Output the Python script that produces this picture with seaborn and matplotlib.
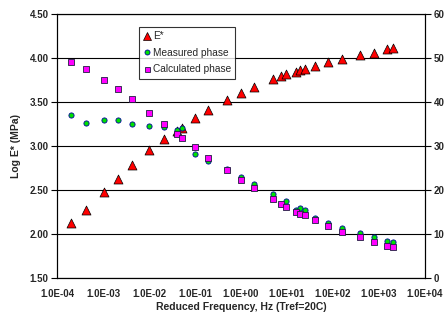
import matplotlib
matplotlib.use("Agg")
import matplotlib.pyplot as plt
import matplotlib.ticker as mticker
from matplotlib.lines import Line2D
import seaborn as sns
import pandas as pd

# reduced frequency (Hz) for each test point
freq = [2.0e-4, 4.2e-4, 1.03e-3, 2.1e-3, 4.2e-3, 9.8e-3, 2.1e-2, 4.1e-2, 5.2e-2,
        9.8e-2, 0.195, 0.5, 1.0, 1.95, 4.9, 7.55, 9.7, 15.5, 19.5, 24.5,
        40, 76, 157, 394, 767, 1450, 1960]
log_e = [2.13, 2.27, 2.48, 2.625, 2.78, 2.955, 3.08, 3.17, 3.21, 3.32, 3.415,
         3.52, 3.606, 3.674, 3.758, 3.795, 3.815, 3.84, 3.864, 3.875, 3.91,
         3.95, 3.985, 4.034, 4.06, 4.10, 4.11]
phase_meas = [37.0, 35.3, 35.9, 35.9, 35.0, 34.6, 34.25, 33.6, 34.0, 28.25, 26.7,
              24.7, 22.9, 21.3, 19.0, 16.9, 17.4, 15.4, 15.9, 15.4, 13.7, 12.4,
              11.4, 10.2, 9.25, 8.3, 8.2]
phase_calc = [49.0, 47.5, 45.0, 42.9, 40.75, 37.6, 35.1, 32.7, 31.9, 29.8, 27.3,
              24.5, 22.3, 20.4, 17.9, 16.75, 16.1, 15.1, 14.5, 14.2, 13.2, 11.9,
              10.5, 9.25, 8.2, 7.3, 7.1]

df = pd.DataFrame({'freq': freq, 'logE': log_e,
                   'meas': phase_meas, 'calc': phase_calc})

sns.set_style("white")
plt.rcParams['font.family'] = ['Liberation Sans', 'DejaVu Sans']

fig = plt.figure(figsize=(4.47, 3.27), dpi=100)
ax = fig.add_axes([0.1275, 0.150, 0.8235, 0.807])
ax2 = ax.twinx()

sns.scatterplot(data=df, x='freq', y='logE', ax=ax, marker='^', s=42,
                color='#FF0000', edgecolor='black', linewidth=0.5, zorder=3)
sns.scatterplot(data=df, x='freq', y='meas', ax=ax2, marker='o', s=14,
                color='#00E000', edgecolor='#0000A0', linewidth=0.6, zorder=3)
sns.scatterplot(data=df, x='freq', y='calc', ax=ax2, marker='s', s=14,
                color='#FF00FF', edgecolor='#202040', linewidth=0.6, zorder=4)

ax.set_xscale('log')
ax.set_xlim(1e-4, 1e4)
ax.set_ylim(1.5, 4.5)
ax2.set_ylim(0, 60)

ax.set_xticks([10.0 ** k for k in range(-4, 5)])
ax.xaxis.set_major_formatter(mticker.FuncFormatter(lambda v, p: '%.1E' % v))
ax.xaxis.set_minor_locator(mticker.NullLocator())
ax.set_yticks([1.5, 2.0, 2.5, 3.0, 3.5, 4.0, 4.5])
ax.yaxis.set_major_formatter(mticker.FormatStrFormatter('%.2f'))
ax2.set_yticks(range(0, 61, 10))

ax.yaxis.grid(True, color='black', linewidth=0.8)
ax.xaxis.grid(False)
ax2.grid(False)

for a in (ax, ax2):
    a.tick_params(axis='both', which='major', direction='out', length=4,
                  width=0.8, color='black', labelsize=7, pad=2)
    for lab in a.get_xticklabels() + a.get_yticklabels():
        lab.set_fontweight('bold')
    for sp in a.spines.values():
        sp.set_color('black')
        sp.set_linewidth(0.8)
ax.tick_params(axis='x', pad=4)

ax.set_xlabel('Reduced Frequency, Hz (Tref=20C)', fontsize=7.5,
              fontweight='bold', labelpad=2)
ax.set_ylabel('Log E* (MPa)', fontsize=7.5, fontweight='bold', labelpad=6)
ax2.set_ylabel('')
ax2.set_xlabel('')

handles = [
    Line2D([], [], linestyle='none', marker='^', markersize=6,
           markerfacecolor='#FF0000', markeredgecolor='black', markeredgewidth=0.5),
    Line2D([], [], linestyle='none', marker='o', markersize=3.6,
           markerfacecolor='#00E000', markeredgecolor='#0000A0', markeredgewidth=0.6),
    Line2D([], [], linestyle='none', marker='s', markersize=3.6,
           markerfacecolor='#FF00FF', markeredgecolor='#202040', markeredgewidth=0.6),
]
leg = ax2.legend(handles, ['E*', 'Measured phase', 'Calculated phase'],
                 loc='upper left', bbox_to_anchor=(0.222, 0.95),
                 fontsize=7.3, frameon=True, fancybox=False, borderpad=0.4,
                 handletextpad=0.1, handlelength=0.9, labelspacing=0.65,
                 borderaxespad=0)
leg.get_frame().set_edgecolor('black')
leg.get_frame().set_linewidth(0.8)

fig.savefig('out.png', dpi=100)
